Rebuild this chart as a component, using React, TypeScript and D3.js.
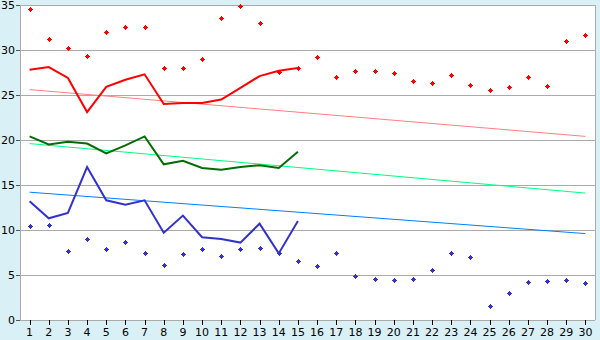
import React from "react";
import * as d3 from "d3";

const days = d3.range(1, 31).map(String);
const yTicks = [0, 5, 10, 15, 20, 25, 30, 35];

const maxPoints = [34.5, 31.2, 30.2, 29.3, 32.0, 32.6, 32.6, 28.0, 28.0, 29.0, 33.6, 34.9, 33.0, 27.6, 28.0,
  29.2, 27.0, 27.7, 27.7, 27.4, 26.6, 26.3, 27.2, 26.1, 25.6, 25.9, 27.0, 26.0, 31.0, 31.7];
const minPoints = [10.5, 10.6, 7.7, 9.0, 7.9, 8.7, 7.5, 6.1, 7.3, 7.9, 7.1, 7.9, 8.0, 7.4, 6.6,
  6.0, 7.4, 4.9, 4.6, 4.5, 4.6, 5.6, 7.5, 7.0, 1.6, 3.0, 4.2, 4.3, 4.4, 4.1];
const maxLine = [27.8, 28.1, 26.9, 23.1, 25.9, 26.7, 27.3, 24.0, 24.1, 24.1, 24.5, 25.8, 27.1, 27.7, 28.0];
const meanLine = [20.4, 19.5, 19.8, 19.6, 18.5, 19.4, 20.4, 17.3, 17.7, 16.9, 16.7, 17.0, 17.2, 16.9, 18.7];
const minLine = [13.2, 11.3, 11.9, 17.0, 13.3, 12.8, 13.3, 9.7, 11.6, 9.2, 9.0, 8.6, 10.7, 7.4, 11.0];
const maxTrend = [25.6, 20.4];
const meanTrend = [19.6, 14.1];
const minTrend = [14.2, 9.6];

const W = 600, H = 340;
const L = 20, R = 595, T = 5, B = 320;

export default function App() {
  const x = d3.scaleBand().domain(days).range([L, R]);
  const cx = (i: number) => (x(days[i]) as number) + x.bandwidth() / 2;
  const y = d3.scaleLinear().domain([0, 35]).range([B, T]);
  const line = d3.line<number>().x((_, i) => cx(i)).y((d) => y(d));
  const trend = (t: number[]) => (
    `M${cx(0)},${y(t[0])}L${cx(days.length - 1)},${y(t[1])}`
  );
  const marker = (px: number, py: number, c: string, k: string) => (
    <path key={k} shapeRendering="crispEdges"
      d={`M${px},${py - 2}h1v1h1v1h1v1h-1v1h-1v1h-1v-1h-1v-1h-1v-1h1v-1h1z`} fill={c} />
  );
  return (
    <svg width={W} height={H} style={{ position: "absolute", left: 0, top: 0 }}
      fontFamily="DejaVu Sans, Verdana, sans-serif" fontSize={11}>
      <rect x={0} y={0} width={W} height={H} fill="#d9f0f7" />
      <rect x={L} y={T} width={R - L} height={B - T} fill="#ffffff" />
      {yTicks.map((t) => (
        <g key={t}>
          {t > 0 && <line x1={L} x2={R} y1={y(t) + 0.5} y2={y(t) + 0.5} stroke="#aaaaaa" />}
          <line x1={L - 4} x2={L} y1={y(t) + 0.5} y2={y(t) + 0.5} stroke="#555555" />
          <text x={15} y={y(t) + 4} textAnchor="end" fill="#000">{t}</text>
        </g>
      ))}
      <line x1={R + 0.5} x2={R + 0.5} y1={T} y2={B} stroke="#aaaaaa" />
      <line x1={L + 0.5} x2={L + 0.5} y1={T} y2={B + 1} stroke="#aaaaaa" />
      <line x1={L} x2={R} y1={B + 0.5} y2={B + 0.5} stroke="#aaaaaa" />
      {days.map((d, i) => (
        <g key={d}>
          <line x1={Math.round(cx(i)) + 0.5} x2={Math.round(cx(i)) + 0.5} y1={B} y2={B + 5} stroke="#000" />
          <text x={cx(i)} y={336} textAnchor="middle" fill="#000">{d}</text>
        </g>
      ))}
      <path d={trend(maxTrend)} stroke="#ff8080" fill="none" strokeWidth={1} />
      <path d={trend(meanTrend)} stroke="#00ff80" fill="none" strokeWidth={1} />
      <path d={trend(minTrend)} stroke="#0080ff" fill="none" strokeWidth={1} />
      <path d={line(maxLine) as string} stroke="#ff0000" fill="none" strokeWidth={2} />
      <path d={line(meanLine) as string} stroke="#006e00" fill="none" strokeWidth={2} />
      <path d={line(minLine) as string} stroke="#3333cc" fill="none" strokeWidth={2} />
      {maxPoints.map((v, i) => marker(Math.round(cx(i)), Math.round(y(v)), "#ff0000", "a" + i))}
      {minPoints.map((v, i) => marker(Math.round(cx(i)), Math.round(y(v)), "#3333cc", "b" + i))}
    </svg>
  );
}
